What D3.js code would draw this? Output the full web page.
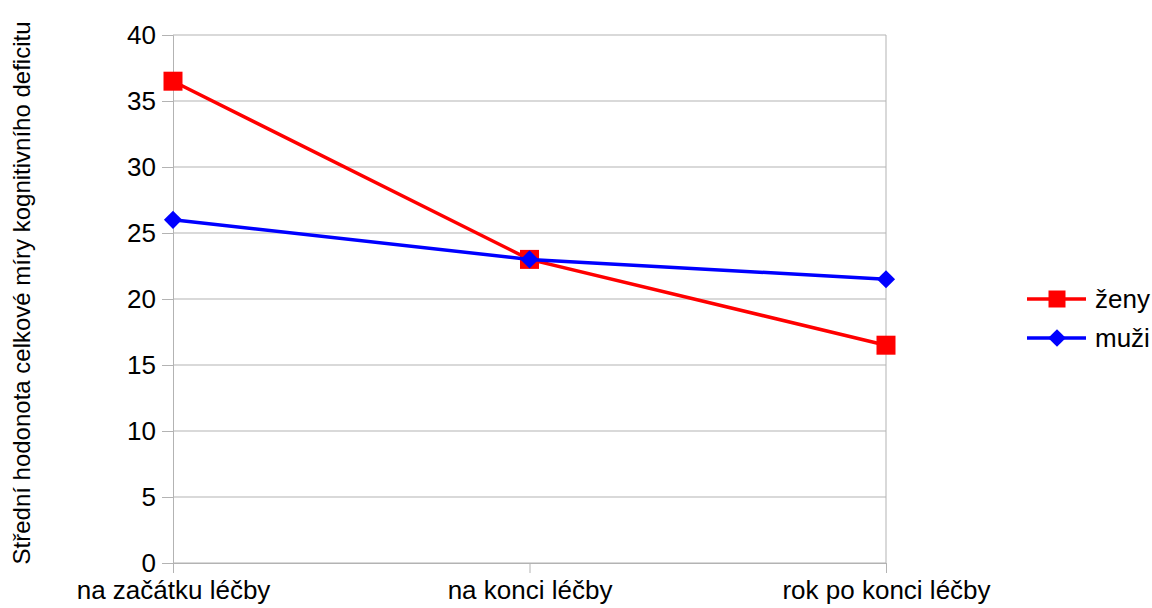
<!DOCTYPE html>
<html>
<head>
<meta charset="utf-8">
<script src="https://cdn.jsdelivr.net/npm/d3@7"></script>
<style>
  body { margin: 0; background: #fff; }
  svg { font-family: "Liberation Sans", Arial, sans-serif; }
</style>
</head>
<body>
<svg id="drawing_region"></svg>
<script>
const categories = ["na začátku léčby", "na konci léčby", "rok po konci léčby"];
const zeny = [36.5, 23, 16.5];
const muzi = [26, 23, 21.5];
const seriesNames = ["ženy", "muži"];
const yTicks = [0, 5, 10, 15, 20, 25, 30, 35, 40];
const yTitle = "Střední hodonota celkové míry kognitivního deficitu";

const width = 1152, height = 608;
const margin = {top: 35, right: 266, bottom: 45, left: 173};
const innerW = width - margin.left - margin.right;
const innerH = height - margin.top - margin.bottom;

const svg = d3.select('#drawing_region')
    .attr('width', width)
    .attr('height', height);

const chart = svg.append('g')
    .attr('transform', `translate(${margin.left}, ${margin.top})`);

const xscale = d3.scalePoint()
    .domain(categories)
    .range([0, innerW])
    .padding(0);

const yscale = d3.scaleLinear()
    .domain([0, 40])
    .range([innerH, 0]);

// horizontal grid
chart.append('g')
    .selectAll('line')
    .data(yTicks)
    .join('line')
    .attr('x1', 0)
    .attr('x2', innerW)
    .attr('y1', d => yscale(d))
    .attr('y2', d => yscale(d))
    .attr('stroke', '#b3b3b3')
    .attr('stroke-width', 1);

// right border
chart.append('line')
    .attr('x1', innerW).attr('x2', innerW)
    .attr('y1', 0).attr('y2', innerH)
    .attr('stroke', '#b3b3b3');

const yaxis = d3.axisLeft(yscale)
    .tickValues(yTicks)
    .tickSize(11)
    .tickPadding(6);

const yaxis_group = chart.append('g').call(yaxis);
yaxis_group.select('.domain').attr('stroke', '#b3b3b3');
yaxis_group.selectAll('.tick line').attr('stroke', '#b3b3b3');
yaxis_group.selectAll('.tick text')
    .attr('font-size', '26px')
    .attr('fill', '#000')
    .attr('font-family', '"Liberation Sans", Arial, sans-serif');

const xaxis = d3.axisBottom(xscale)
    .tickSize(10)
    .tickPadding(8);

const xaxis_group = chart.append('g')
    .attr('transform', `translate(0, ${innerH})`)
    .call(xaxis);
xaxis_group.select('.domain').attr('stroke', '#b3b3b3');
xaxis_group.selectAll('.tick line').attr('stroke', '#b3b3b3');
xaxis_group.selectAll('.tick text')
    .attr('font-size', '26px')
    .attr('fill', '#000')
    .attr('font-family', '"Liberation Sans", Arial, sans-serif');

// y title
svg.append('text')
    .attr('transform', `translate(30, ${margin.top + innerH / 2 - 6}) rotate(-90)`)
    .attr('text-anchor', 'middle')
    .attr('font-size', '24px')
    .attr('fill', '#000')
    .text(yTitle);

const line = d3.line()
    .x((d, i) => xscale(categories[i]))
    .y(d => yscale(d));

const sqSym = d3.symbol().type(d3.symbolSquare).size(19 * 19);
const diaSym = d3.symbol().type(d3.symbolDiamond2).size(210);

// ženy
chart.append('path')
    .datum(zeny)
    .attr('fill', 'none')
    .attr('stroke', '#ff0000')
    .attr('stroke-width', 3.5)
    .attr('d', line);

chart.append('g')
    .selectAll('path')
    .data(zeny)
    .join('path')
    .attr('transform', (d, i) => `translate(${xscale(categories[i])}, ${yscale(d)})`)
    .attr('d', sqSym)
    .attr('fill', '#ff0000');

// muži
chart.append('path')
    .datum(muzi)
    .attr('fill', 'none')
    .attr('stroke', '#0000ff')
    .attr('stroke-width', 3.5)
    .attr('d', line);

chart.append('g')
    .selectAll('path')
    .data(muzi)
    .join('path')
    .attr('transform', (d, i) => `translate(${xscale(categories[i])}, ${yscale(d)})`)
    .attr('d', diaSym)
    .attr('fill', '#0000ff');

// legend
const legend = svg.append('g').attr('transform', 'translate(1027, 299)');
const legColors = ['#ff0000', '#0000ff'];
const legSyms = [
    d3.symbol().type(d3.symbolSquare).size(17 * 17),
    d3.symbol().type(d3.symbolDiamond2).size(200)
];
seriesNames.forEach((name, i) => {
    const g = legend.append('g').attr('transform', `translate(0, ${i * 39})`);
    g.append('line')
        .attr('x1', 0).attr('x2', 59)
        .attr('y1', 0).attr('y2', 0)
        .attr('stroke', legColors[i])
        .attr('stroke-width', 3.5);
    g.append('path')
        .attr('transform', 'translate(30, 0)')
        .attr('d', legSyms[i])
        .attr('fill', legColors[i]);
    g.append('text')
        .attr('x', 68)
        .attr('y', 9)
        .attr('font-size', '26px')
        .attr('fill', '#000')
        .text(name);
});
</script>
</body>
</html>
